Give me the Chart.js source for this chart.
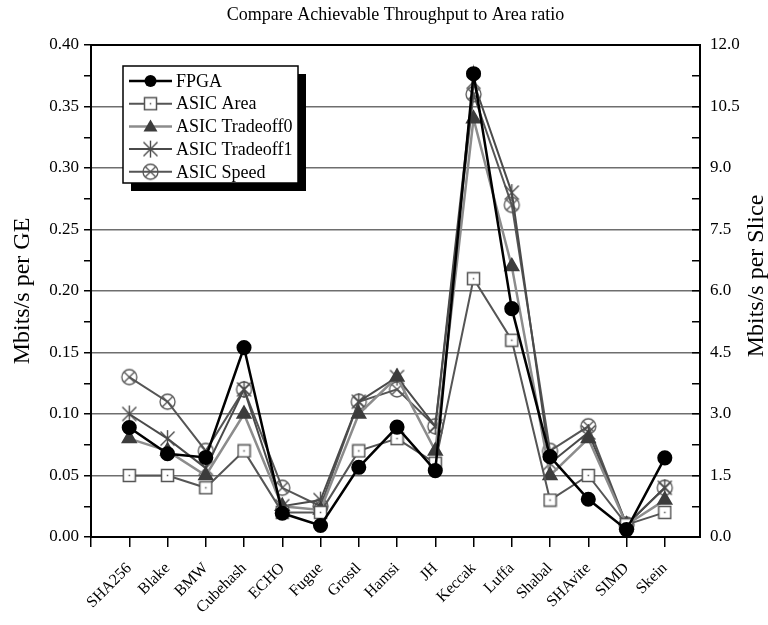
<!DOCTYPE html>
<html>
<head>
<meta charset="utf-8">
<script src="https://cdn.jsdelivr.net/npm/chart.js@4.4.1/dist/chart.umd.min.js"></script>
<style>
  html, body { margin: 0; padding: 0; background: #fff; }
  #wrap { width: 768px; height: 625px; }
</style>
</head>
<body>
<div id="wrap"><canvas id="myChart" width="768" height="625"></canvas></div>
<script>
const categories = ['SHA256','Blake','BMW','Cubehash','ECHO','Fugue','Grostl','Hamsi','JH','Keccak','Luffa','Shabal','SHAvite','SIMD','Skein'];
// FPGA is read against the right axis (Mbits/s per Slice)
const fpga      = [2.67, 2.03, 1.94, 4.62, 0.58, 0.28, 1.70, 2.68, 1.62, 11.3, 5.57, 1.96, 0.92, 0.18, 1.93];
// ASIC series against the left axis (Mbits/s per GE)
const asicArea  = [0.05, 0.05, 0.04, 0.07, 0.02, 0.02, 0.07, 0.08, 0.06, 0.21, 0.16, 0.03, 0.05, 0.01, 0.02];
const tradeoff0 = [0.08, 0.07, 0.05, 0.10, 0.025, 0.022, 0.10, 0.13, 0.07, 0.34, 0.22, 0.05, 0.08, 0.01, 0.03];
const tradeoff1 = [0.10, 0.08, 0.056, 0.12, 0.025, 0.03, 0.11, 0.13, 0.09, 0.37, 0.28, 0.06, 0.085, 0.01, 0.04];
const asicSpeed = [0.13, 0.11, 0.07, 0.12, 0.04, 0.025, 0.11, 0.12, 0.09, 0.36, 0.27, 0.07, 0.09, 0.01, 0.04];
const seriesNames = ['FPGA','ASIC Area','ASIC Tradeoff0','ASIC Tradeoff1','ASIC Speed'];
const rightTitle = 'Mbits/s per Slice';

const SERIF = '"Liberation Serif", "DejaVu Serif", serif';

function mk(size, draw){
    const c = document.createElement('canvas');
    c.width = size; c.height = size;
    const g = c.getContext('2d');
    draw(g, size/2);
    return c;
}
const squareMark = mk(15, (g,m) => {
    g.fillStyle = '#fff'; g.strokeStyle = '#555'; g.lineWidth = 1.5;
    g.fillRect(1.5,1.5,12,12); g.strokeRect(1.5,1.5,12,12);
    g.fillStyle = '#555'; g.fillRect(m-0.75,m-0.75,1.5,1.5);
});
const starMark = mk(19, (g,m) => {
    g.strokeStyle = '#4a4a4a'; g.lineWidth = 1.4;
    g.beginPath();
    g.moveTo(m, m-8.5); g.lineTo(m, m+8.5);
    g.moveTo(m-7, m-7); g.lineTo(m+7, m+7);
    g.moveTo(m+7, m-7); g.lineTo(m-7, m+7);
    g.stroke();
});
const speedMark = mk(19, (g,m) => {
    g.strokeStyle = '#555'; g.lineWidth = 1.3;
    g.beginPath(); g.arc(m, m, 7.5, 0, Math.PI*2); g.stroke();
    g.beginPath();
    g.moveTo(m-5.3, m-5.3); g.lineTo(m+5.3, m+5.3);
    g.moveTo(m+5.3, m-5.3); g.lineTo(m-5.3, m+5.3);
    g.stroke();
});

const pts = arr => arr.map((v,i) => ({x:i, y:v}));
const isMajor = (v, step) => Math.abs(v/step - Math.round(v/step)) < 1e-6;

const frame = {
    id: 'frame',
    afterDatasetsDraw(chart){
        const {ctx, chartArea:a} = chart;
        ctx.save();
        ctx.strokeStyle = '#000'; ctx.lineWidth = 2;
        ctx.strokeRect(a.left, a.top, a.right - a.left, a.bottom - a.top);
        ctx.restore();
    }
};

// right axis title reads bottom-to-top like the left one
const rightLabel = {
    id: 'rightLabel',
    afterDraw(chart){
        const ctx = chart.ctx;
        ctx.save();
        ctx.translate(757, 276);
        ctx.rotate(-Math.PI/2);
        ctx.font = '24px ' + SERIF;
        ctx.fillStyle = '#000';
        ctx.textAlign = 'center'; ctx.textBaseline = 'middle';
        ctx.fillText(rightTitle, 0, 0);
        ctx.restore();
    }
};

const boxLegend = {
    id: 'boxLegend',
    afterDraw(chart){
        const ctx = chart.ctx;
        const x = 123, y = 66, w = 175, h = 117;
        ctx.save();
        ctx.fillStyle = '#000';
        ctx.fillRect(x+8, y+8, w, h);
        ctx.fillStyle = '#fff';
        ctx.fillRect(x, y, w, h);
        ctx.strokeStyle = '#000'; ctx.lineWidth = 1.5;
        ctx.strokeRect(x, y, w, h);
        ctx.font = '18px ' + SERIF;
        ctx.textBaseline = 'middle';
        chart.data.datasets.forEach((ds, i) => {
            const ry = 81 + i*22.7;
            ctx.strokeStyle = ds.borderColor; ctx.lineWidth = ds.borderWidth;
            ctx.beginPath(); ctx.moveTo(129, ry); ctx.lineTo(172, ry); ctx.stroke();
            const ps = ds.pointStyle;
            if (ps === 'circle') {
                ctx.fillStyle = '#000';
                ctx.beginPath(); ctx.arc(150.5, ry, 6, 0, Math.PI*2); ctx.fill();
            } else if (ps === 'triangle') {
                ctx.fillStyle = ds.pointBackgroundColor;
                ctx.beginPath(); ctx.moveTo(150.5, ry-7); ctx.lineTo(157.5, ry+5); ctx.lineTo(143.5, ry+5); ctx.closePath(); ctx.fill();
            } else {
                ctx.drawImage(ps, 150.5 - ps.width/2, ry - ps.height/2);
            }
            ctx.fillStyle = '#000';
            ctx.fillText(ds.label, 176, ry + 1);
        });
        ctx.restore();
    }
};

const ctx = document.getElementById('myChart');
new Chart(ctx, {
    type: 'line',
    data: {
        datasets: [
            { label: seriesNames[0], data: pts(fpga), yAxisID: 'y1', borderColor: '#000', borderWidth: 2.5,
              pointStyle: 'circle', pointRadius: 6.3, pointBackgroundColor: '#000', pointBorderColor: '#000' },
            { label: seriesNames[1], data: pts(asicArea), yAxisID: 'y', borderColor: '#555', borderWidth: 2,
              pointStyle: squareMark },
            { label: seriesNames[2], data: pts(tradeoff0), yAxisID: 'y', borderColor: '#8c8c8c', borderWidth: 2.5,
              pointStyle: 'triangle', pointRadius: 7, pointBackgroundColor: '#3c3c3c', pointBorderColor: '#3c3c3c' },
            { label: seriesNames[3], data: pts(tradeoff1), yAxisID: 'y', borderColor: '#4a4a4a', borderWidth: 2,
              pointStyle: starMark },
            { label: seriesNames[4], data: pts(asicSpeed), yAxisID: 'y', borderColor: '#555', borderWidth: 2,
              pointStyle: speedMark }
        ]
    },
    options: {
        responsive: false,
        animation: false,
        layout: { padding: 0 },
        plugins: {
            legend: { display: false },
            tooltip: { enabled: false },
            title: {
                display: true, fullSize: false,
                text: 'Compare Achievable Throughput to Area ratio',
                color: '#000', font: { family: SERIF, size: 18, weight: 'normal', lineHeight: 1.2 },
                padding: { top: 4, bottom: 19.4 }
            }
        },
        scales: {
            x: {
                type: 'linear', min: -1, max: 14.92,
                afterFit: s => { s.height = 88; },
                border: { color: '#000', width: 2 },
                grid: { drawOnChartArea: false, tickLength: 10, color: '#000', lineWidth: 1.5 },
                ticks: {
                    stepSize: 1, includeBounds: false, autoSkip: false,
                    maxRotation: 45, minRotation: 45, padding: 12,
                    color: '#000', font: { family: SERIF, size: 16 },
                    callback: v => categories[v] ?? ''
                }
            },
            y: {
                position: 'left', min: 0, max: 0.4,
                afterFit: s => { s.width = 91; },
                border: { color: '#000', width: 2 },
                grid: {
                    color: c => isMajor(c.tick.value, 0.05) ? '#6e6e6e' : 'rgba(0,0,0,0)',
                    lineWidth: 1.5, tickColor: '#000', tickLength: 7
                },
                ticks: {
                    stepSize: 0.025, padding: 5, color: '#000', font: { family: SERIF, size: 17 },
                    callback: v => isMajor(v, 0.05) ? v.toFixed(2) : ''
                },
                title: { display: true, text: 'Mbits/s per GE', color: '#000',
                         font: { family: SERIF, size: 24 }, padding: { top: 8 } }
            },
            y1: {
                position: 'right', min: 0, max: 12,
                afterFit: s => { s.width = 68; },
                border: { color: '#000', width: 2 },
                // ticks on the right axis point into the plot
                grid: { drawOnChartArea: false, tickColor: '#000', lineWidth: 1.5, tickLength: -8 },
                ticks: {
                    stepSize: 0.75, padding: 18, color: '#000', font: { family: SERIF, size: 17 },
                    callback: v => isMajor(v, 1.5) ? v.toFixed(1) : ''
                }
            }
        }
    },
    plugins: [frame, boxLegend, rightLabel]
});
</script>
</body>
</html>
